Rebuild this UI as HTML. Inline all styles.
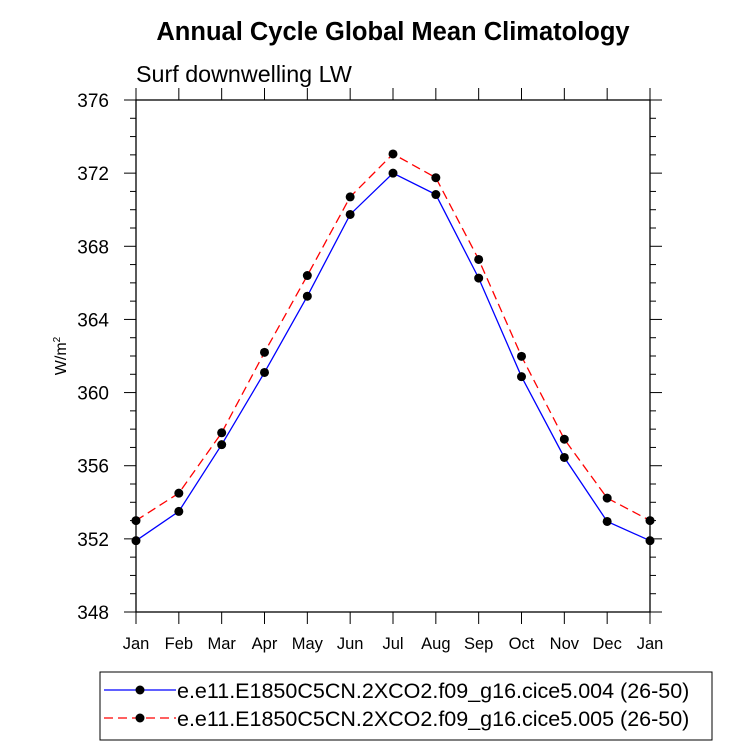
<!DOCTYPE html>
<html><head><meta charset="utf-8"><style>
body{margin:0;background:#fff;}
svg{display:block;font-family:"Liberation Sans",Arial,sans-serif;}
</style></head><body>
<svg id="chart" width="733" height="746" viewBox="0 0 733 746">
<text x="393" y="40" text-anchor="middle" font-size="25.5" font-weight="bold">Annual Cycle Global Mean Climatology</text>
<text x="136" y="82" font-size="23.3">Surf downwelling LW</text>
<text transform="translate(66,356) rotate(-90)" text-anchor="middle" font-size="16">W/m<tspan font-size="10" dy="-6">2</tspan></text>
<g id="axes"></g>
<g id="series"></g>
<g>
<rect x="100" y="672" width="612" height="68" fill="none" stroke="#000" stroke-width="1"/>
<line x1="104" y1="690" x2="176" y2="690" stroke="#0000ff" stroke-width="1.3"/>
<circle cx="140" cy="690" r="4.5" fill="#000"/>
<text x="177" y="698" font-size="21.5">e.e11.E1850C5CN.2XCO2.f09_g16.cice5.004 (26-50)</text>
<line x1="104" y1="718" x2="176" y2="718" stroke="#ff0000" stroke-width="1.3" stroke-dasharray="9,5"/>
<circle cx="140" cy="718" r="4.5" fill="#000"/>
<text x="177" y="726" font-size="21.5">e.e11.E1850C5CN.2XCO2.f09_g16.cice5.005 (26-50)</text>
</g>
</svg>
<script>
const months = ["Jan","Feb","Mar","Apr","May","Jun","Jul","Aug","Sep","Oct","Nov","Dec","Jan"];
const series004 = [351.9,353.5,357.15,361.1,365.27,369.74,372.0,370.83,366.26,360.87,356.45,352.95,351.9];
const series005 = [353.0,354.5,357.8,362.2,366.4,370.7,373.05,371.75,367.28,361.98,357.45,354.23,353.0];
const yTicks = [348,352,356,360,364,368,372,376];
const yMin = 348, yMax = 376;
const L=136, R=650, T=100, B=612;
const NS="http://www.w3.org/2000/svg";
const xs = i => L + (R-L)*i/(months.length-1);
const ys = v => B - (v-yMin)/(yMax-yMin)*(B-T);
function mk(tag, attrs, parent){const e=document.createElementNS(NS,tag);for(const k in attrs)e.setAttribute(k,attrs[k]);parent.appendChild(e);return e;}
const ax=document.getElementById('axes');
const frame=mk('rect',{x:L,y:T,width:R-L,height:B-T,fill:'none',stroke:'#000','stroke-width':1.3},ax);


for(let v=yMin; v<=yMax; v++){
  const major = yTicks.includes(v);
  const len = major?12:6;
  const y=ys(v);
  const t1=mk('line',{x1:L-len,y1:y,x2:L,y2:y,stroke:'#000','stroke-width':1},ax);
  
  
  const t2=mk('line',{x1:R,y1:y,x2:R+len,y2:y,stroke:'#000','stroke-width':1},ax);
  
  
}
yTicks.forEach(v=>{
  const t=mk('text',{x:L-27,y:ys(v)+7,'text-anchor':'end','font-size':19},ax);
  t.textContent=v;
  
  
});
months.forEach((m,i)=>{
  const x=xs(i);
  const a=mk('line',{x1:x,y1:B,x2:x,y2:B+12,stroke:'#000','stroke-width':1},ax);
  
  
  const b=mk('line',{x1:x,y1:T-12,x2:x,y2:T,stroke:'#000','stroke-width':1},ax);
  
  
  const t=mk('text',{x:x,y:B+37,'text-anchor':'middle','font-size':16.5},ax);
  t.textContent=m;
  
  
});
const sg=document.getElementById('series');
function draw(vals,color,dash,name){
  const pts=vals.map((v,i)=>xs(i)+','+ys(v)).join(' ');
  const pl=mk('polyline',{points:pts,fill:'none',stroke:color,'stroke-width':1.3},sg);
  if(dash) pl.setAttribute('stroke-dasharray',dash);
  
  
  vals.forEach((v,i)=>{
    const c=mk('circle',{cx:xs(i),cy:ys(v),r:4.5,fill:'#000'},sg);
    
    
  });
}
draw(series004,'#0000ff',null,'series-004');
draw(series005,'#ff0000','9,5','series-005');
</script>
</body></html>
